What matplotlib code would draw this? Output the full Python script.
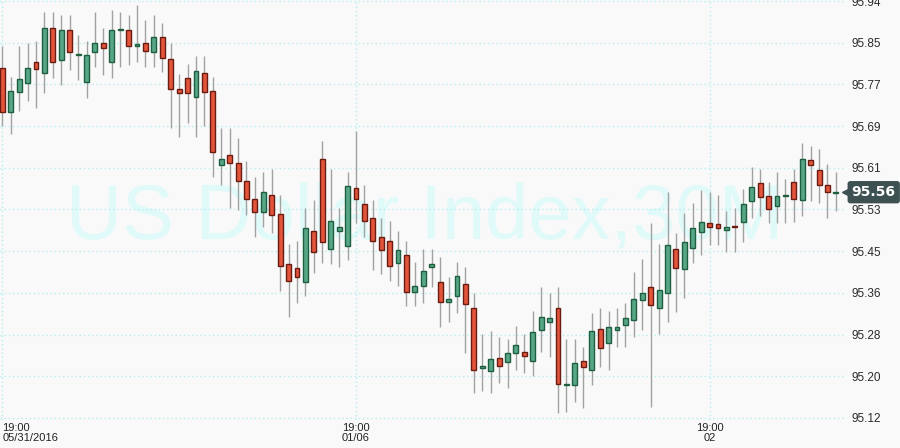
#!/usr/bin/env python3

import matplotlib
matplotlib.use("Agg")
import matplotlib.pyplot as plt
import matplotlib.transforms as mtransforms

# 30 minute candles (index 0 = 19:00 05/31/2016)
opens = [95.808, 95.722, 95.761, 95.779, 95.820, 95.798, 95.887, 95.824, 95.883, 95.834,
         95.781, 95.840, 95.857, 95.820, 95.883, 95.883, 95.852, 95.857, 95.840, 95.869,
         95.826, 95.767, 95.789, 95.751, 95.798, 95.763, 95.618, 95.637, 95.621, 95.586,
         95.551, 95.525, 95.559, 95.521, 95.423, 95.415, 95.387, 95.488, 95.629, 95.452,
         95.488, 95.458, 95.572, 95.541, 95.513, 95.476, 95.468, 95.425, 95.441, 95.368,
         95.380, 95.417, 95.387, 95.348, 95.360, 95.384, 95.336, 95.218, 95.212, 95.238,
         95.230, 95.248, 95.250, 95.232, 95.293, 95.309, 95.336, 95.185, 95.185, 95.232,
         95.214, 95.295, 95.267, 95.293, 95.303, 95.313, 95.352, 95.378, 95.336, 95.366,
         95.452, 95.413, 95.454, 95.486, 95.503, 95.501, 95.490, 95.498, 95.505, 95.547,
         95.582, 95.557, 95.537, 95.557, 95.584, 95.549, 95.627, 95.608, 95.578, 95.563]
closes = [95.722, 95.763, 95.787, 95.808, 95.806, 95.887, 95.820, 95.883, 95.840, 95.835,
          95.834, 95.857, 95.848, 95.883, 95.884, 95.852, 95.855, 95.842, 95.869, 95.828,
          95.767, 95.759, 95.759, 95.802, 95.761, 95.643, 95.629, 95.621, 95.586, 95.551,
          95.525, 95.564, 95.519, 95.419, 95.389, 95.397, 95.494, 95.446, 95.466, 95.507,
          95.496, 95.576, 95.551, 95.507, 95.468, 95.450, 95.419, 95.450, 95.368, 95.380,
          95.409, 95.423, 95.348, 95.354, 95.399, 95.344, 95.214, 95.222, 95.236, 95.222,
          95.248, 95.264, 95.242, 95.289, 95.319, 95.317, 95.187, 95.187, 95.228, 95.220,
          95.291, 95.258, 95.299, 95.299, 95.317, 95.354, 95.366, 95.342, 95.372, 95.460,
          95.415, 95.466, 95.494, 95.505, 95.496, 95.494, 95.496, 95.496, 95.541, 95.574,
          95.555, 95.531, 95.557, 95.559, 95.551, 95.629, 95.618, 95.578, 95.564, 95.564]
highs = [95.852, 95.791, 95.852, 95.857, 95.861, 95.918, 95.918, 95.913, 95.913, 95.873,
         95.861, 95.918, 95.887, 95.922, 95.918, 95.913, 95.932, 95.903, 95.913, 95.897,
         95.857, 95.796, 95.816, 95.832, 95.832, 95.791, 95.690, 95.690, 95.671, 95.625,
         95.594, 95.604, 95.610, 95.559, 95.462, 95.468, 95.533, 95.549, 95.665, 95.610,
         95.533, 95.604, 95.684, 95.578, 95.549, 95.513, 95.507, 95.488, 95.468, 95.427,
         95.452, 95.452, 95.437, 95.397, 95.427, 95.417, 95.366, 95.285, 95.291, 95.279,
         95.275, 95.301, 95.285, 95.330, 95.378, 95.366, 95.378, 95.275, 95.275, 95.260,
         95.327, 95.336, 95.330, 95.336, 95.346, 95.407, 95.433, 95.503, 95.462, 95.564,
         95.484, 95.523, 95.543, 95.568, 95.564, 95.559, 95.527, 95.533, 95.570, 95.614,
         95.610, 95.584, 95.604, 95.590, 95.610, 95.661, 95.655, 95.649, 95.620, 95.604]
lows = [95.694, 95.678, 95.724, 95.743, 95.730, 95.759, 95.789, 95.775, 95.804, 95.785,
        95.749, 95.810, 95.795, 95.789, 95.810, 95.814, 95.820, 95.810, 95.810, 95.800,
        95.690, 95.673, 95.700, 95.673, 95.694, 95.594, 95.578, 95.533, 95.529, 95.519,
        95.476, 95.496, 95.484, 95.370, 95.319, 95.346, 95.360, 95.405, 95.425, 95.423,
        95.417, 95.431, 95.503, 95.476, 95.411, 95.403, 95.389, 95.380, 95.340, 95.340,
        95.346, 95.378, 95.299, 95.309, 95.327, 95.248, 95.169, 95.173, 95.169, 95.189,
        95.179, 95.214, 95.209, 95.203, 95.250, 95.240, 95.130, 95.132, 95.152, 95.140,
        95.185, 95.220, 95.214, 95.260, 95.260, 95.279, 95.293, 95.142, 95.285, 95.309,
        95.328, 95.356, 95.425, 95.441, 95.460, 95.460, 95.446, 95.446, 95.466, 95.513,
        95.517, 95.503, 95.503, 95.503, 95.505, 95.517, 95.547, 95.543, 95.513, 95.527]

time_tick_idx = [0, 42, 84]
time_tick_labels = ["19:00\n05/31/2016", "19:00\n01/06", "19:00\n02"]

price_ticks = [95.12, 95.202, 95.284, 95.366, 95.448, 95.53, 95.612, 95.694, 95.776, 95.858, 95.94]
price_tick_labels = ["95.12", "95.20", "95.28", "95.36", "95.45", "95.53",
                     "95.61", "95.69", "95.77", "95.85", "95.94"]

title = "US Dollar Index,30M"

UP_FILL, UP_EDGE = '#58a688', '#1d5f3f'
DN_FILL, DN_EDGE = '#e2553a', '#6a1c12'
BG = '#f9f9f9'
GRID = '#b4eef0'


def plot_candles(filename="out.png"):
    fig = plt.figure(figsize=(9, 4.48), dpi=100, facecolor=BG)
    ax = fig.add_axes([0, 28 / 448, 845 / 900, 420 / 448], facecolor=BG)

    # watermark
    ax.text(0.502, 0.43, title, transform=ax.transAxes, ha='center', va='baseline',
            fontsize=56, family='Liberation Sans', color='#e0f9f9', zorder=0)

    x = list(range(len(opens)))
    ax.vlines(x, lows, highs, color='#a2a2a2', linewidth=1, zorder=2)

    for i in x:
        o, c = opens[i], closes[i]
        up = c >= o
        ax.bar(i, max(abs(c - o), 0.0008), bottom=min(o, c), width=0.58,
               color=UP_FILL if up else DN_FILL,
               edgecolor=UP_EDGE if up else DN_EDGE, linewidth=1, zorder=3)

    ax.set_xlim(-0.273, 100.08)
    ax.set_ylim(95.116, 95.942)

    ax.set_xticks(time_tick_idx)
    ax.set_xticklabels(time_tick_labels, fontsize=8, linespacing=1.0,
                       family=['Liberation Sans Narrow', 'Liberation Sans'],
                       color='#222222')
    ax.get_xticklabels()[0].set_ha('left')
    ax.set_yticks(price_ticks)
    ax.set_yticklabels(price_tick_labels, fontsize=8.5, family='Liberation Sans',
                       color='#2a2a2a')
    ax.yaxis.tick_right()
    ax.tick_params(axis='both', length=0)
    ax.tick_params(axis='y', pad=5)
    ax.tick_params(axis='x', pad=2)
    for s in ax.spines.values():
        s.set_visible(False)
    ax.grid(True, linestyle=(0, (1, 2)), color=GRID, linewidth=1, zorder=1)
    ax.set_axisbelow(True)

    # last price tag
    trans = mtransforms.blended_transform_factory(ax.transAxes, ax.transData)
    last = closes[-1]
    ax.plot([1.0015], [last], marker='<', markersize=6, color='#3d5153',
            transform=trans, clip_on=False, zorder=5)
    ax.text(1.034, last, f"{last:.2f}", transform=trans, ha='center', va='center',
            fontsize=10, fontweight='bold', color='white', family='DejaVu Sans',
            bbox=dict(boxstyle='round,pad=0.3,rounding_size=0.2', fc='#3d5153', ec='none'),
            clip_on=False, zorder=6)

    plt.savefig(filename, dpi=100, facecolor=BG)
    plt.close(fig)


if __name__ == '__main__':
    plot_candles()
